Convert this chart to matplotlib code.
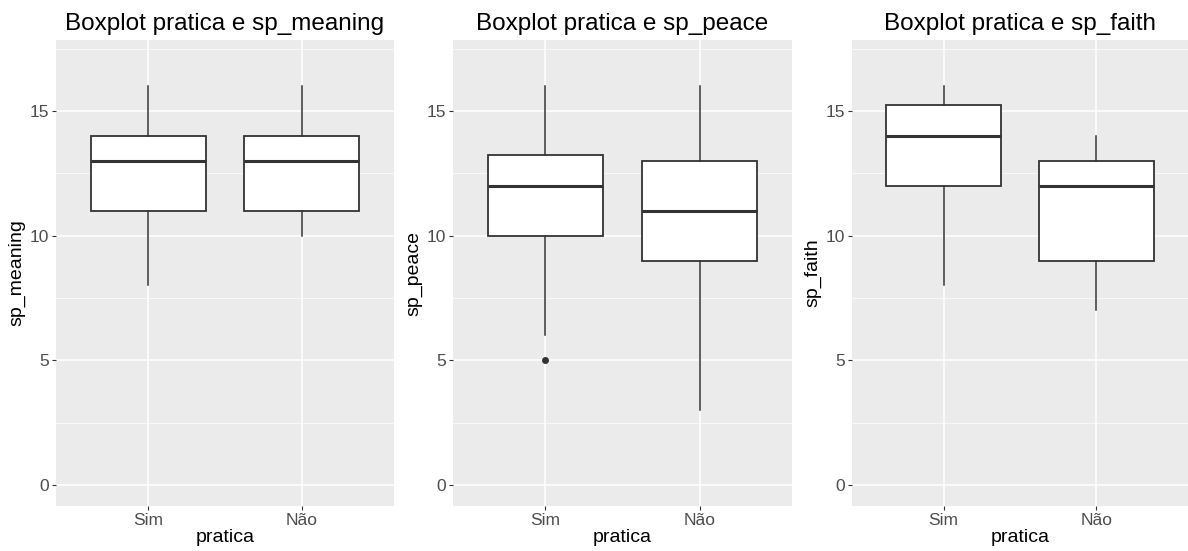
import numpy as np
import matplotlib.pyplot as plt

plt.rcParams['font.family'] = ['Liberation Sans', 'DejaVu Sans']

# Grupos
grupos = ["Sim", "Não"]

# Estatísticas dos boxplots: (whislo, q1, med, q3, whishi)
meaning_stats = [(8, 11, 13, 14, 16), (10, 11, 13, 14, 16)]
peace_stats = [(6, 10, 12, 13.25, 16), (3, 9, 11, 13, 16)]
faith_stats = [(8, 12, 14, 15.25, 16), (7, 9, 12, 13, 14)]

# Outliers por grupo
meaning_out = [[], []]
peace_out = [[5], []]
faith_out = [[], []]

variaveis = ["sp_meaning", "sp_peace", "sp_faith"]
todas_stats = [meaning_stats, peace_stats, faith_stats]
todos_out = [meaning_out, peace_out, faith_out]

W, H = 1188, 551
fig = plt.figure(figsize=(W / 100, H / 100), dpi=100)

# posição dos painéis em pixels (esquerda, direita)
paineis = [(56, 394), (453, 792), (852, 1188)]
topo, base = 40, 506

cor_linha = "#333333"

for (x0, x1), var, stats, outs in zip(paineis, variaveis, todas_stats, todos_out):
    ax = fig.add_axes([x0 / W, (H - base) / H, (x1 - x0) / W, (base - topo) / H])
    ax.set_facecolor("#EBEBEB")
    for s in ax.spines.values():
        s.set_visible(False)

    bxp_stats = []
    for (lo, q1, med, q3, hi), fl, g in zip(stats, outs, grupos):
        bxp_stats.append(dict(whislo=lo, q1=q1, med=med, q3=q3, whishi=hi,
                              fliers=fl, label=g))

    ax.bxp(bxp_stats, positions=[1, 2], widths=0.75, patch_artist=True,
           showcaps=False,
           boxprops=dict(facecolor="white", edgecolor=cor_linha, linewidth=1.3),
           medianprops=dict(color=cor_linha, linewidth=2.2, solid_capstyle="butt"),
           whiskerprops=dict(color=cor_linha, linewidth=1.1),
           flierprops=dict(marker="o", markersize=4, markerfacecolor=cor_linha,
                           markeredgecolor=cor_linha),
           zorder=3)

    ax.set_xlim(0.4, 2.6)
    ax.set_ylim(-0.85, 17.85)
    ax.set_yticks([0, 5, 10, 15])
    ax.set_yticks([2.5, 7.5, 12.5, 17.5], minor=True)
    ax.set_xticks([1, 2])
    ax.set_xticklabels(grupos)

    ax.grid(True, which="major", color="white", linewidth=1.1, zorder=0)
    ax.grid(True, which="minor", axis="y", color="white", linewidth=0.5, zorder=0)
    ax.set_axisbelow(True)

    ax.tick_params(axis="both", which="major", length=3, width=0.8, color=cor_linha,
                   labelcolor="#4D4D4D", labelsize=12.5, pad=2)
    ax.tick_params(axis="y", which="minor", length=0)

    ax.set_xlabel("pratica", fontsize=14, color="black", labelpad=1)
    ax.set_ylabel(var, fontsize=14, color="black", labelpad=3)
    ax.set_title("Boxplot pratica e " + var, fontsize=17.5, color="black", pad=7)

fig.savefig("out.png", dpi=100, facecolor="white")
